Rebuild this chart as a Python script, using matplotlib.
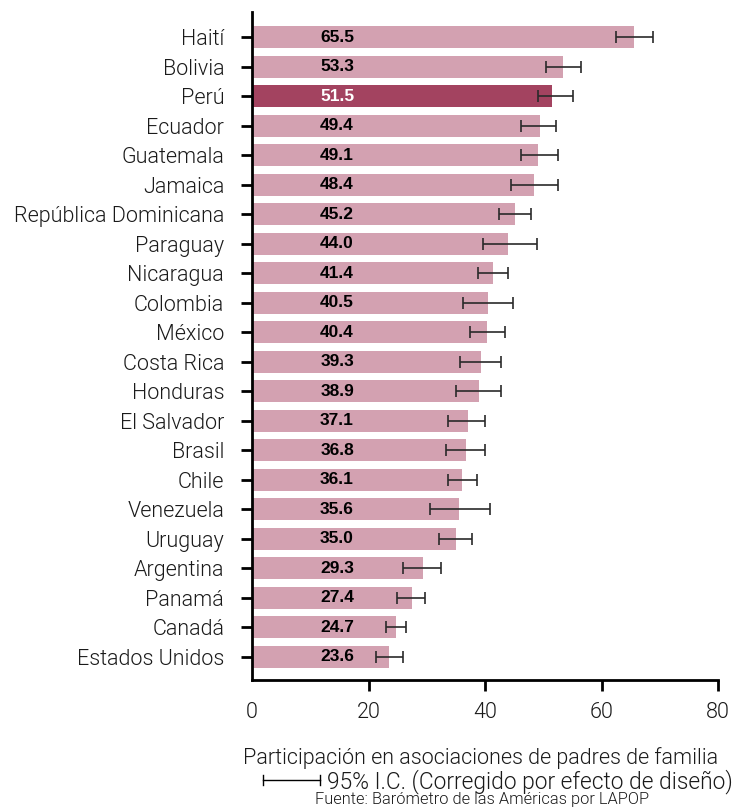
import matplotlib
matplotlib.use("Agg")
import matplotlib.pyplot as plt

plt.rcParams['font.family'] = ['Roboto', 'DejaVu Sans']

paises = ["Haití", "Bolivia", "Perú", "Ecuador", "Guatemala", "Jamaica",
          "República Dominicana", "Paraguay", "Nicaragua", "Colombia", "México",
          "Costa Rica", "Honduras", "El Salvador", "Brasil", "Chile", "Venezuela",
          "Uruguay", "Argentina", "Panamá", "Canadá", "Estados Unidos"]
valores = [65.5, 53.3, 51.5, 49.4, 49.1, 48.4, 45.2, 44.0, 41.4, 40.5, 40.4,
           39.3, 38.9, 37.1, 36.8, 36.1, 35.6, 35.0, 29.3, 27.4, 24.7, 23.6]
ic_inf = [62.4, 50.4, 49.1, 46.1, 46.1, 44.4, 42.4, 39.6, 38.8, 36.2, 37.4,
          35.7, 35.0, 33.6, 33.3, 33.6, 30.5, 32.1, 25.9, 24.9, 23.0, 21.3]
ic_sup = [68.8, 56.4, 55.1, 52.1, 52.5, 52.5, 47.9, 48.9, 43.9, 44.8, 43.4,
          42.7, 42.7, 40.0, 40.0, 38.6, 40.8, 37.7, 32.4, 29.7, 26.4, 25.9]
destacado = "Perú"

color_barra = "#d3a1b1"
color_destacado = "#a34360"
peso = 300  # Roboto Light

fig = plt.figure(figsize=(7.34, 8.09), dpi=100)
ax = fig.add_axes([0.3433, 0.1595, 0.635, 0.8257])

n = len(paises)
pos = [n - 1 - i for i in range(n)]
colores = [color_destacado if p == destacado else color_barra for p in paises]

ax.barh(pos, valores, height=0.75, color=colores)

err_low = [v - lo for v, lo in zip(valores, ic_inf)]
err_high = [hi - v for v, hi in zip(valores, ic_sup)]
ax.errorbar(valores, pos, xerr=[err_low, err_high], fmt="none",
            ecolor="#2a2a2a", elinewidth=1.2, capsize=4, capthick=1.2)

# etiquetas de valores
for p, v, pais in zip(pos, valores, paises):
    c = "white" if pais == destacado else "black"
    ax.text(14.6, p, "%.1f" % v, ha="center", va="center", fontsize=12.5,
            fontweight="bold", color=c, family=["Liberation Sans", "DejaVu Sans"])

ax.set_yticks(pos)
ax.set_yticklabels(paises, fontsize=15.5, color="#1a1a1a", fontweight=peso)
ax.set_xlim(0, 80)
ax.set_ylim(-0.78, n - 1 + 0.85)
ax.set_xticks([0, 20, 40, 60, 80])
ax.set_xticklabels(["0", "20", "40", "60", "80"], fontweight=peso, color="#1a1a1a")
ax.tick_params(axis="x", labelsize=15.5, length=8, width=2, pad=8)
ax.tick_params(axis="y", length=8, width=2, pad=12)
ax.xaxis.get_major_ticks()[0].tick1line.set_visible(False)

for s in ["top", "right"]:
    ax.spines[s].set_visible(False)
ax.spines["left"].set_linewidth(2)
ax.spines["bottom"].set_linewidth(2)

# textos al pie
fig.text(481 / 734, 1 - 764 / 809, "Participación en asociaciones de padres de familia",
         ha="center", va="baseline", fontsize=15.5, color="#1a1a1a", fontweight=peso)
ly = 1 - 780 / 809
fig.lines.append(plt.Line2D([263 / 734, 320 / 734], [ly, ly],
                            transform=fig.transFigure, color="black", lw=1))
fig.lines.append(plt.Line2D([263 / 734] * 2, [1 - 775 / 809, 1 - 785 / 809],
                            transform=fig.transFigure, color="black", lw=1))
fig.lines.append(plt.Line2D([320 / 734] * 2, [1 - 775 / 809, 1 - 785 / 809],
                            transform=fig.transFigure, color="black", lw=1))
fig.text(327 / 734, 1 - 788 / 809, "95% I.C. (Corregido por efecto de diseño)",
         ha="left", va="baseline", fontsize=16.4, color="#1a1a1a", fontweight=peso)
fig.text(482 / 734, 1 - 804 / 809, "Fuente: Barómetro de las Américas por LAPOP",
         ha="center", va="baseline", fontsize=11.8, color="#1a1a1a", fontweight=peso)

fig.savefig("out.png", dpi=100)
